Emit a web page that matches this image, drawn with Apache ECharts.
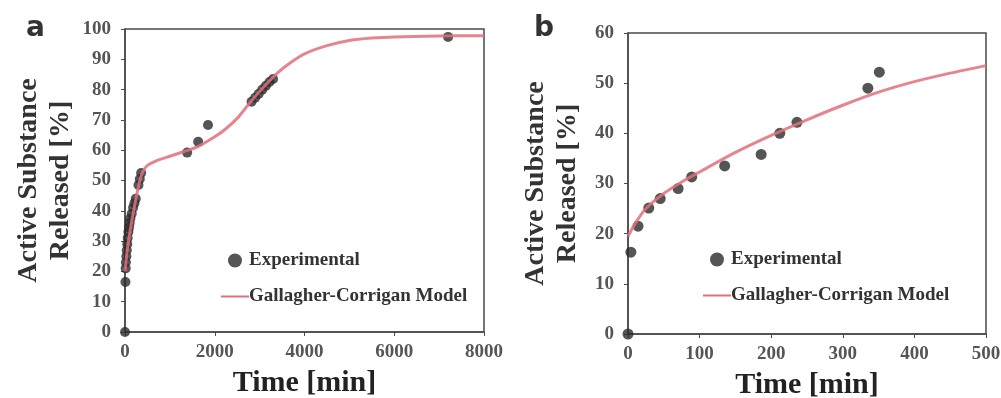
<!DOCTYPE html>
<html>
<head>
<meta charset="utf-8">
<script src="https://cdn.jsdelivr.net/npm/echarts@6/dist/echarts.min.js"></script>
<style>
  html, body { margin: 0; padding: 0; background: #fff; }
  #chart { width: 1001px; height: 398px; }
</style>
</head>
<body>
<div id="chart"></div>
<script>
// panel a: long release, time in min
const expTimeA = [0, 10, 15, 20, 30, 40, 50, 60, 75, 90, 105, 120, 150, 180, 210, 240, 300, 330, 360,
  1385, 1630, 1850, 2820, 2900, 2980, 3060, 3140, 3220, 3300, 7200];
const expValA = [0, 16.5, 21, 23, 25, 27, 29, 31, 33, 34.5, 36, 37.5, 39, 41, 42.5, 44, 48.5, 50.5, 52.5,
  59.2, 62.8, 68.3, 76, 77.3, 78.6, 80, 81.3, 82.5, 83.5, 97.4];
const modelTimeA = [0, 50, 100, 150, 200, 250, 300, 350, 400, 500, 700, 1000, 1300, 1600, 1900, 2200,
  2500, 2800, 3100, 3400, 3700, 4000, 4500, 5000, 5500, 6000, 7000, 8000];
const modelValA = [20, 27, 32, 36.5, 40.5, 44.5, 48, 51, 53, 55, 56.5, 58, 59.5, 61, 63.5, 66.5,
  70.5, 76, 81, 85.5, 89, 91.8, 94.5, 96.2, 97, 97.4, 97.7, 97.8];

// panel b: first 500 min
const expTimeB = [0, 4, 14, 29, 45, 70, 89, 135, 186, 212, 236, 335, 351];
const expValB = [0, 16.3, 21.5, 25.1, 27, 29, 31.3, 33.5, 35.8, 40, 42.2, 49, 52.2];
const modelTimeB = [0, 10, 25, 50, 75, 100, 150, 200, 250, 300, 350, 400, 450, 500];
const modelValB = [19.5, 22, 25, 28, 30.3, 32.3, 36.2, 39.6, 42.7, 45.6, 48.2, 50.3, 52, 53.5];

const ticksA = { x: [0, 8000, 2000], y: [0, 100, 10] };
const ticksB = { x: [0, 500, 100], y: [0, 60, 10] };

const serif = '"Liberation Serif", "DejaVu Serif", serif';
const axisColor = '#4a4a4a';
const tickText = { fontFamily: serif, fontWeight: 'bold', fontSize: 19, color: '#555', formatter: v => String(v) };

const zip = (xs, ys) => xs.map((x, i) => [x, ys[i]]);

function xAxis(idx, t) {
  return {
    type: 'value', gridIndex: idx, min: t[0], max: t[1], interval: t[2],
    name: 'Time [min]', nameLocation: 'middle', nameGap: 36,
    nameTextStyle: { fontFamily: serif, fontWeight: 'bold', fontSize: 30, color: '#222' },
    axisLine: { lineStyle: { color: axisColor, width: 1.5 } },
    axisTick: { length: 4, lineStyle: { color: axisColor } },
    axisLabel: Object.assign({ margin: 11 }, tickText),
    splitLine: { show: false }
  };
}

function yAxis(idx, t, gap) {
  return {
    type: 'value', gridIndex: idx, min: t[0], max: t[1], interval: t[2],
    name: 'Active Substance\nReleased [%]', nameLocation: 'middle', nameGap: gap,
    nameTextStyle: { fontFamily: serif, fontWeight: 'bold', fontSize: 28, lineHeight: 32, color: '#333' },
    axisLine: { lineStyle: { color: axisColor, width: 1.5 } },
    axisTick: { length: 4, lineStyle: { color: axisColor } },
    axisLabel: Object.assign({ margin: 14 }, tickText),
    splitLine: { show: false }
  };
}

function legend(left, top) {
  return {
    left: left, top: top, orient: 'vertical', itemGap: 17,
    itemWidth: 28, itemHeight: 14,
    textStyle: { fontFamily: serif, fontWeight: 'bold', fontSize: 19, color: '#333', padding: [0, 0, 0, -5] },
    data: [
      { name: 'Experimental', icon: 'circle' },
      { name: 'Gallagher-Corrigan Model', icon: 'path://M0,0 L28,0 L28,2 L0,2 Z' }
    ]
  };
}

const chart = echarts.init(document.getElementById('chart'));
chart.setOption({
  animation: false,
  backgroundColor: '#fff',
  title: [
    { text: 'a', left: 21, top: 10, textStyle: { fontFamily: 'DejaVu Sans', fontWeight: 'bold', fontSize: 28, color: '#333' } },
    { text: 'b', left: 529, top: 10, textStyle: { fontFamily: 'DejaVu Sans', fontWeight: 'bold', fontSize: 28, color: '#333' } }
  ],
  grid: [
    { left: 125, right: 517, top: 29, bottom: 66, show: true, borderColor: axisColor, borderWidth: 1.5, outerBoundsMode: 'none' },
    { left: 628, right: 15, top: 33, bottom: 64, show: true, borderColor: axisColor, borderWidth: 1.5, outerBoundsMode: 'none' }
  ],
  legend: [legend(216, 246), legend(698, 245)],
  xAxis: [xAxis(0, ticksA.x), xAxis(1, ticksB.x)],
  yAxis: [yAxis(0, ticksA.y, 48), yAxis(1, ticksB.y, 44)],
  series: [
    {
      name: 'Experimental', type: 'scatter', xAxisIndex: 0, yAxisIndex: 0,
      symbolSize: 10, itemStyle: { color: '#2a2a2a' }, data: zip(expTimeA, expValA), z: 2
    },
    {
      name: 'Gallagher-Corrigan Model', type: 'line', xAxisIndex: 0, yAxisIndex: 0,
      smooth: 0.3, showSymbol: false, symbol: 'none',
      lineStyle: { color: '#e0707b', width: 3, opacity: 0.85 }, itemStyle: { color: '#e0707b' },
      data: zip(modelTimeA, modelValA), z: 3
    },
    {
      name: 'Experimental', type: 'scatter', xAxisIndex: 1, yAxisIndex: 1,
      symbolSize: 11, itemStyle: { color: '#2a2a2a' }, data: zip(expTimeB, expValB), z: 2
    },
    {
      name: 'Gallagher-Corrigan Model', type: 'line', xAxisIndex: 1, yAxisIndex: 1,
      smooth: 0.3, showSymbol: false, symbol: 'none',
      lineStyle: { color: '#e0707b', width: 3, opacity: 0.85 }, itemStyle: { color: '#e0707b' },
      data: zip(modelTimeB, modelValB), z: 3
    }
  ]
});
</script>
</body>
</html>
